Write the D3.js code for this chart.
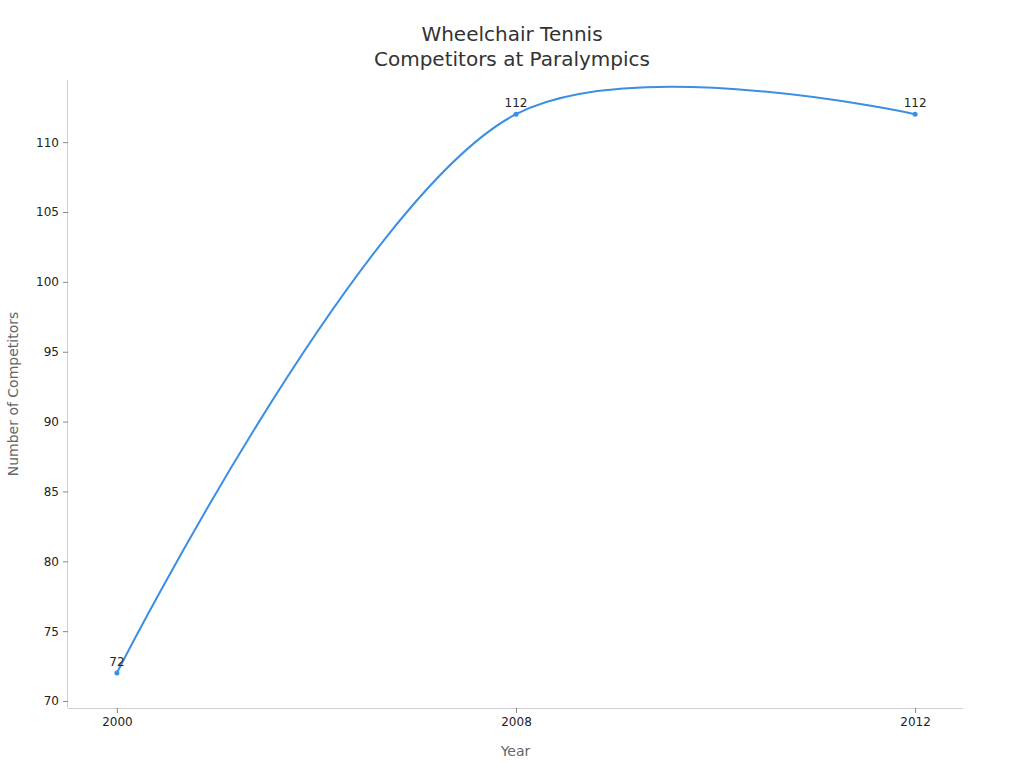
<!DOCTYPE html>
<html>
<head>
<meta charset="utf-8">
<script src="https://cdn.jsdelivr.net/npm/d3@7"></script>
<style>
  body { margin: 0; background: #fff; }
  svg { font-family: "DejaVu Sans", sans-serif; }
</style>
</head>
<body>
<div id="chart"></div>
<script>
// Data
const years = ["2000", "2008", "2012"];
const competitors = [72, 112, 112];
const yTicks = [70, 75, 80, 85, 90, 95, 100, 105, 110];
const yDomain = [69.5, 114.45];

const WIDTH = 1024;
const HEIGHT = 768;
const LEFT = 68, RIGHT = 963, TOP = 80, BOTTOM = 708;
const lineColor = "#3a8fe3";

const svg = d3
  .select("#chart")
  .append("svg")
  .attr("width", WIDTH)
  .attr("height", HEIGHT);

// Scales
const xScale = d3.scalePoint().domain(years).range([LEFT + 1, RIGHT]).padding(0.12);
const yScale = d3.scaleLinear().domain(yDomain).range([BOTTOM, TOP]);

// Title
const title = svg
  .append("text")
  .attr("x", WIDTH / 2)
  .attr("text-anchor", "middle")
  .attr("font-size", "20px")
  .attr("fill", "#333");
title.append("tspan").attr("x", WIDTH / 2).attr("y", 41).text("Wheelchair Tennis");
title.append("tspan").attr("x", WIDTH / 2).attr("y", 66).text("Competitors at Paralympics");

// Axes
const xAxis = svg
  .append("g")
  .attr("transform", `translate(0, ${BOTTOM})`)
  .call(d3.axisBottom(xScale).tickSize(5).tickPadding(4));

const yAxis = svg
  .append("g")
  .attr("transform", `translate(${LEFT}, 0)`)
  .call(d3.axisLeft(yScale).tickValues(yTicks).tickSize(5).tickPadding(4));

[xAxis, yAxis].forEach((ax) => {
  ax.select(".domain").attr("stroke", "#d0d0d0").attr("stroke-width", 1);
  ax.selectAll(".tick line").attr("stroke", "#888");
  ax.selectAll(".tick text")
    .attr("fill", "#222")
    .attr("font-size", "12px")
    .attr("font-family", "DejaVu Sans, sans-serif");
});
// axis line spans the full plot range
xAxis.select(".domain").attr("d", `M${LEFT},0.5H${RIGHT}`);
yAxis.select(".domain").attr("d", `M-0.5,${TOP}V${BOTTOM}`);

// Axis labels
svg
  .append("text")
  .attr("x", (LEFT + RIGHT) / 2)
  .attr("y", 756)
  .attr("text-anchor", "middle")
  .attr("font-size", "14px")
  .attr("fill", "#666")
  .text("Year");

svg
  .append("text")
  .attr("transform", "rotate(-90)")
  .attr("x", -(TOP + BOTTOM) / 2)
  .attr("y", 18)
  .attr("text-anchor", "middle")
  .attr("font-size", "14px")
  .attr("fill", "#666")
  .text("Number of Competitors");

// Line
const data = years.map((y, i) => ({ year: y, value: competitors[i] }));

const line = d3
  .line()
  .x((d) => xScale(d.year))
  .y((d) => yScale(d.value))
  .curve(d3.curveCatmullRom.alpha(0.5));

svg
  .append("path")
  .datum(data)
  .attr("fill", "none")
  .attr("stroke", lineColor)
  .attr("stroke-width", 2)
  .attr("d", line);

svg
  .selectAll("circle.pt")
  .data(data)
  .enter()
  .append("circle")
  .attr("class", "pt")
  .attr("cx", (d) => xScale(d.year))
  .attr("cy", (d) => yScale(d.value))
  .attr("r", 2.5)
  .attr("fill", lineColor);

// Point labels
svg
  .selectAll("text.label")
  .data(data)
  .enter()
  .append("text")
  .attr("class", "label")
  .attr("x", (d) => xScale(d.year))
  .attr("y", (d) => yScale(d.value) - 7)
  .attr("text-anchor", "middle")
  .attr("font-size", "12px")
  .attr("fill", "#222")
  .text((d) => d.value);
</script>
</body>
</html>
